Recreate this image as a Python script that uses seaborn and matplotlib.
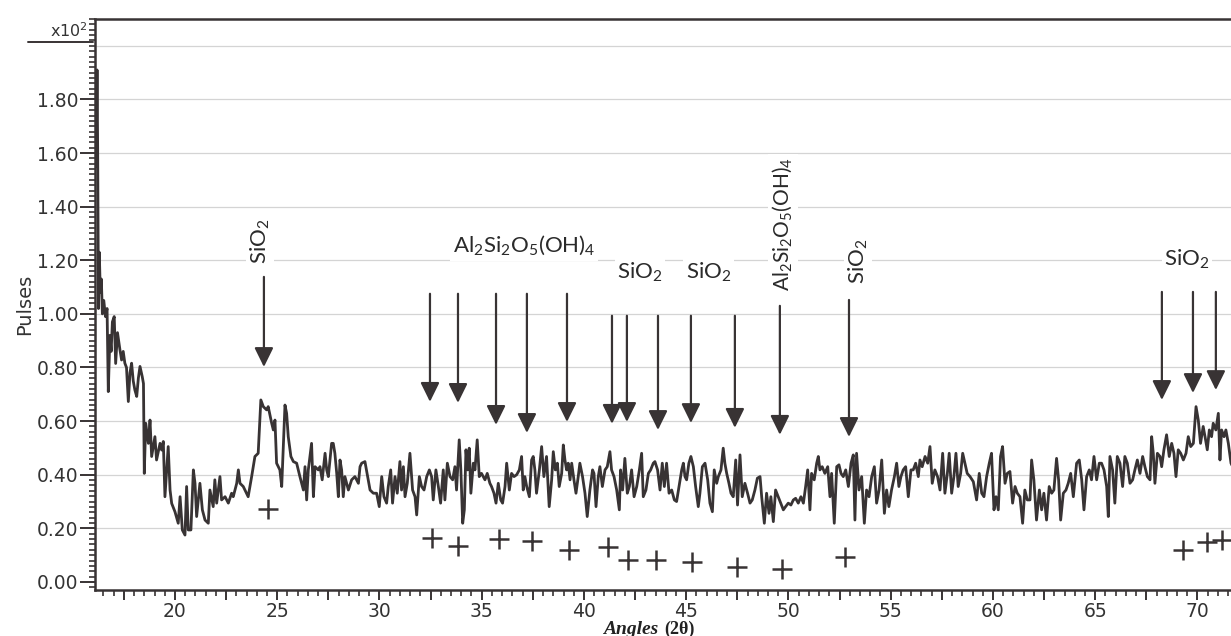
import matplotlib
matplotlib.use("Agg")
import numpy as np
import pandas as pd
import matplotlib.pyplot as plt
from matplotlib.ticker import MultipleLocator, FuncFormatter
import seaborn as sns

# Diffraction scan: angle (2-theta, degrees) and intensity (pulses x 10^2)
angle = [
    16.15, 16.19, 16.22, 16.26, 16.30, 16.35, 16.40, 16.45, 16.52, 16.60, 16.68, 16.74, 16.82, 16.88,
    16.94, 17.03, 17.10, 17.19, 17.31, 17.39, 17.47, 17.55, 17.63, 17.72, 17.80, 17.88, 17.96, 18.04,
    18.13, 18.21, 18.29, 18.40, 18.46, 18.50, 18.57, 18.70, 18.78, 18.86, 19.02, 19.10, 19.27, 19.35,
    19.43, 19.51, 19.67, 19.76, 19.84, 20.00, 20.16, 20.25, 20.36, 20.49, 20.57, 20.65, 20.78, 20.90,
    20.98, 21.06, 21.22, 21.34, 21.47, 21.63, 21.71, 21.87, 21.95, 22.04, 22.20, 22.28, 22.45, 22.61,
    22.77, 22.85, 23.02, 23.10, 23.18, 23.34, 23.50, 23.58, 23.75, 23.91, 24.07, 24.20, 24.32, 24.48,
    24.56, 24.73, 24.81, 24.89, 24.97, 25.13, 25.22, 25.30, 25.38, 25.46, 25.54, 25.67, 25.79, 25.95,
    26.11, 26.28, 26.36, 26.44, 26.52, 26.68, 26.77, 26.85, 27.01, 27.09, 27.20, 27.34, 27.42, 27.50,
    27.66, 27.74, 27.82, 27.91, 27.99, 28.07, 28.15, 28.23, 28.31, 28.48, 28.64, 28.80, 28.97, 29.05,
    29.13, 29.29, 29.42, 29.54, 29.70, 29.86, 29.99, 30.11, 30.22, 30.35, 30.43, 30.55, 30.64, 30.76,
    30.87, 31.00, 31.08, 31.17, 31.25, 31.36, 31.49, 31.62, 31.74, 31.82, 31.95, 32.06, 32.18, 32.31,
    32.44, 32.55, 32.63, 32.76, 32.88, 32.99, 33.12, 33.20, 33.32, 33.45, 33.58, 33.69, 33.77, 33.90,
    33.98, 34.07, 34.15, 34.23, 34.31, 34.39, 34.47, 34.59, 34.67, 34.78, 34.88, 34.99, 35.16, 35.27,
    35.40, 35.48, 35.60, 35.70, 35.81, 35.93, 36.02, 36.14, 36.22, 36.35, 36.46, 36.58, 36.71, 36.84,
    36.95, 37.03, 37.11, 37.20, 37.33, 37.44, 37.52, 37.60, 37.68, 37.82, 37.93, 38.04, 38.17, 38.30,
    38.42, 38.50, 38.60, 38.70, 38.79, 38.91, 38.99, 39.07, 39.15, 39.23, 39.32, 39.40, 39.51, 39.61,
    39.72, 39.80, 39.93, 40.05, 40.16, 40.29, 40.42, 40.49, 40.59, 40.70, 40.78, 40.90, 41.03, 41.14,
    41.27, 41.35, 41.47, 41.60, 41.73, 41.79, 41.89, 42.00, 42.12, 42.22, 42.33, 42.45, 42.58, 42.71,
    42.82, 42.90, 43.03, 43.15, 43.26, 43.39, 43.47, 43.60, 43.72, 43.83, 43.93, 44.04, 44.16, 44.29,
    44.42, 44.53, 44.65, 44.78, 44.86, 44.94, 45.02, 45.13, 45.23, 45.35, 45.46, 45.59, 45.67, 45.79,
    45.92, 46.05, 46.16, 46.28, 46.37, 46.49, 46.57, 46.70, 46.81, 46.89, 46.98, 47.09, 47.19, 47.30,
    47.42, 47.51, 47.63, 47.74, 47.87, 48.00, 48.12, 48.23, 48.36, 48.48, 48.61, 48.69, 48.82, 48.93,
    49.05, 49.14, 49.26, 49.37, 49.50, 49.63, 49.75, 49.86, 49.99, 50.12, 50.24, 50.35, 50.48, 50.61,
    50.73, 50.84, 50.94, 51.05, 51.13, 51.26, 51.38, 51.46, 51.54, 51.65, 51.78, 51.92, 52.03, 52.11,
    52.24, 52.36, 52.47, 52.57, 52.68, 52.80, 52.93, 53.06, 53.17, 53.25, 53.33, 53.45, 53.58, 53.71,
    53.82, 53.94, 54.07, 54.20, 54.31, 54.43, 54.56, 54.69, 54.80, 54.91, 55.04, 55.18, 55.29, 55.40,
    55.50, 55.61, 55.73, 55.86, 55.99, 56.10, 56.22, 56.35, 56.43, 56.54, 56.68, 56.81, 56.92, 57.03,
    57.16, 57.29, 57.41, 57.54, 57.65, 57.77, 57.86, 57.98, 58.09, 58.19, 58.30, 58.42, 58.52, 58.63,
    58.74, 58.88, 59.04, 59.20, 59.33, 59.45, 59.56, 59.69, 59.82, 59.93, 60.05, 60.15, 60.26, 60.37,
    60.47, 60.59, 60.70, 60.83, 60.96, 61.08, 61.19, 61.32, 61.45, 61.56, 61.68, 61.81, 61.89, 62.00,
    62.13, 62.27, 62.38, 62.49, 62.62, 62.75, 62.87, 62.98, 63.11, 63.21, 63.31, 63.44, 63.57, 63.68,
    63.80, 63.93, 64.09, 64.22, 64.34, 64.45, 64.58, 64.71, 64.82, 64.94, 65.07, 65.20, 65.31, 65.43,
    65.56, 65.64, 65.72, 65.85, 65.96, 66.08, 66.21, 66.34, 66.45, 66.57, 66.70, 66.83, 66.94, 67.06,
    67.19, 67.32, 67.43, 67.55, 67.68, 67.76, 67.84, 67.92, 68.04, 68.17, 68.25, 68.36, 68.49, 68.62,
    68.74, 68.85, 68.95, 69.06, 69.18, 69.31, 69.44, 69.55, 69.67, 69.80, 69.93, 70.04, 70.15, 70.28,
    70.37, 70.48, 70.58, 70.69, 70.77, 70.90, 71.02, 71.10, 71.18, 71.30, 71.39, 71.51, 71.64, 71.72,
]
pulses = [
    1.55, 1.91, 1.62, 1.02, 1.23, 1.08, 1.13, 1.00, 1.05, 0.99, 1.02, 0.71, 0.92, 0.86,
    0.97, 0.99, 0.815, 0.93, 0.866, 0.828, 0.86, 0.816, 0.80, 0.673, 0.78, 0.816, 0.75, 0.716,
    0.692, 0.76, 0.804, 0.766, 0.74, 0.405, 0.592, 0.517, 0.604, 0.468, 0.542, 0.455, 0.517, 0.492,
    0.524, 0.318, 0.505, 0.343, 0.293, 0.262, 0.219, 0.318, 0.194, 0.175, 0.356, 0.194, 0.194, 0.418,
    0.368, 0.244, 0.368, 0.269, 0.231, 0.219, 0.343, 0.281, 0.381, 0.294, 0.393, 0.306, 0.318, 0.294,
    0.331, 0.318, 0.368, 0.418, 0.368, 0.356, 0.331, 0.318, 0.393, 0.468, 0.480, 0.679, 0.654, 0.642,
    0.654, 0.592, 0.567, 0.604, 0.443, 0.418, 0.356, 0.505, 0.660, 0.629, 0.542, 0.468, 0.449, 0.443,
    0.393, 0.343, 0.430, 0.306, 0.418, 0.517, 0.318, 0.430, 0.418, 0.430, 0.381, 0.480, 0.418, 0.393,
    0.517, 0.517, 0.480, 0.405, 0.318, 0.455, 0.418, 0.318, 0.393, 0.343, 0.381, 0.393, 0.368, 0.430,
    0.443, 0.449, 0.393, 0.343, 0.331, 0.331, 0.281, 0.393, 0.318, 0.294, 0.356, 0.418, 0.294, 0.393,
    0.331, 0.449, 0.343, 0.430, 0.318, 0.368, 0.480, 0.343, 0.318, 0.250, 0.393, 0.356, 0.343, 0.393,
    0.418, 0.393, 0.306, 0.418, 0.356, 0.294, 0.418, 0.306, 0.443, 0.393, 0.381, 0.430, 0.343, 0.530,
    0.418, 0.219, 0.269, 0.493, 0.418, 0.499, 0.331, 0.443, 0.418, 0.530, 0.393, 0.405, 0.381, 0.405,
    0.368, 0.356, 0.331, 0.294, 0.368, 0.306, 0.294, 0.356, 0.443, 0.343, 0.405, 0.393, 0.400, 0.418,
    0.468, 0.343, 0.393, 0.356, 0.318, 0.455, 0.468, 0.418, 0.331, 0.418, 0.505, 0.393, 0.468, 0.281,
    0.381, 0.486, 0.418, 0.443, 0.356, 0.405, 0.511, 0.455, 0.418, 0.443, 0.381, 0.443, 0.381, 0.331,
    0.393, 0.443, 0.393, 0.331, 0.244, 0.343, 0.418, 0.405, 0.281, 0.393, 0.430, 0.356, 0.418, 0.430,
    0.486, 0.418, 0.393, 0.343, 0.269, 0.418, 0.343, 0.461, 0.331, 0.356, 0.418, 0.318, 0.356, 0.418,
    0.480, 0.318, 0.343, 0.405, 0.418, 0.443, 0.449, 0.418, 0.343, 0.443, 0.356, 0.443, 0.331, 0.343,
    0.306, 0.300, 0.356, 0.418, 0.443, 0.393, 0.381, 0.443, 0.468, 0.430, 0.356, 0.281, 0.331, 0.430,
    0.443, 0.381, 0.294, 0.262, 0.418, 0.368, 0.393, 0.418, 0.499, 0.443, 0.405, 0.368, 0.331, 0.318,
    0.455, 0.287, 0.474, 0.318, 0.368, 0.331, 0.294, 0.306, 0.343, 0.387, 0.393, 0.318, 0.219, 0.331,
    0.256, 0.318, 0.225, 0.343, 0.318, 0.294, 0.269, 0.281, 0.294, 0.287, 0.306, 0.312, 0.294, 0.318,
    0.294, 0.356, 0.418, 0.269, 0.405, 0.381, 0.443, 0.468, 0.418, 0.430, 0.405, 0.430, 0.318, 0.405,
    0.219, 0.430, 0.437, 0.405, 0.393, 0.418, 0.356, 0.443, 0.474, 0.231, 0.480, 0.343, 0.393, 0.219,
    0.343, 0.318, 0.393, 0.430, 0.294, 0.343, 0.455, 0.256, 0.343, 0.281, 0.343, 0.393, 0.443, 0.356,
    0.393, 0.418, 0.430, 0.318, 0.418, 0.418, 0.443, 0.393, 0.455, 0.430, 0.468, 0.443, 0.505, 0.368,
    0.418, 0.393, 0.343, 0.480, 0.331, 0.405, 0.480, 0.331, 0.393, 0.480, 0.356, 0.405, 0.480, 0.443,
    0.405, 0.393, 0.374, 0.306, 0.405, 0.331, 0.318, 0.393, 0.443, 0.480, 0.269, 0.318, 0.269, 0.468,
    0.505, 0.368, 0.405, 0.412, 0.294, 0.356, 0.331, 0.318, 0.219, 0.343, 0.306, 0.306, 0.455, 0.381,
    0.231, 0.343, 0.269, 0.331, 0.231, 0.356, 0.331, 0.343, 0.461, 0.381, 0.231, 0.331, 0.343, 0.368,
    0.405, 0.318, 0.443, 0.455, 0.381, 0.269, 0.393, 0.418, 0.381, 0.468, 0.381, 0.443, 0.443, 0.418,
    0.356, 0.244, 0.468, 0.418, 0.294, 0.468, 0.443, 0.356, 0.468, 0.443, 0.368, 0.381, 0.418, 0.455,
    0.405, 0.468, 0.430, 0.393, 0.381, 0.542, 0.480, 0.368, 0.480, 0.468, 0.430, 0.493, 0.549, 0.468,
    0.517, 0.480, 0.393, 0.493, 0.480, 0.455, 0.480, 0.542, 0.505, 0.517, 0.654, 0.604, 0.517, 0.580,
    0.542, 0.493, 0.567, 0.542, 0.592, 0.567, 0.629, 0.455, 0.567, 0.542, 0.567, 0.517, 0.443, 0.43,
]

# Reference line positions (+ markers) below the scan
ref_angle = [24.53, 32.55, 33.85, 35.86, 37.47, 39.27, 41.16, 42.14, 43.52, 45.26, 47.47, 49.67,
             52.76, 69.28, 70.45, 71.18]
ref_level = [0.272, 0.163, 0.134, 0.159, 0.153, 0.119, 0.132, 0.082, 0.082, 0.076, 0.055, 0.047,
             0.094, 0.119, 0.150, 0.157]

# Peak identification arrows
arrow_angle = [24.35, 32.47, 33.84, 35.70, 37.21, 39.17, 41.37, 42.10, 43.62, 45.23, 47.38, 49.58,
               52.96, 68.26, 69.78, 70.90]
arrow_start = [1.138, 1.075, 1.075, 1.075, 1.075, 1.075, 0.993, 0.993, 0.993, 0.993, 0.993, 1.030,
               1.052, 1.082, 1.082, 1.082]
arrow_end = [0.802, 0.672, 0.668, 0.586, 0.556, 0.597, 0.590, 0.597, 0.567, 0.593, 0.575, 0.549,
             0.541, 0.679, 0.705, 0.716]

# Phase labels
sio2 = r"SiO$_\mathregular{2}$"
kaolinite = r"Al$_\mathregular{2}$Si$_\mathregular{2}$O$_\mathregular{5}$(OH)$_\mathregular{4}$"
label_text = [sio2, kaolinite, sio2, sio2, kaolinite, sio2, sio2]
label_x = [24.16, 37.07, 42.74, 46.11, 49.73, 53.40, 69.49]
label_y = [1.27, 1.254, 1.157, 1.157, 1.336, 1.196, 1.205]
label_rot = [90, 0, 0, 0, 90, 90, 0]
label_size = [16, 16, 16, 16, 15, 16, 16]

ink = "#383334"

sns.set_theme(style="white")
plt.rcParams["font.family"] = ["DejaVu Sans"]
plt.rcParams["mathtext.fontset"] = "custom"
plt.rcParams["mathtext.rm"] = "Lato"

fig = plt.figure(figsize=(12.31, 6.36), dpi=100)
ax = fig.add_axes([95 / 1231, 1 - 590 / 636, 1 - 95 / 1231, (590 - 19) / 636])

scan = pd.DataFrame({"angle": angle, "pulses": pulses})
refs = pd.DataFrame({"angle": ref_angle, "pulses": ref_level})

for gy in np.arange(0.2, 2.01, 0.2):
    ax.axhline(gy, color="#d4d4d4", lw=0.9, zorder=0)

sns.lineplot(data=scan, x="angle", y="pulses", ax=ax, color=ink, lw=2.0,
             estimator=None, sort=False, zorder=3)
sns.scatterplot(data=refs, x="angle", y="pulses", ax=ax, marker="+", s=190,
                color=ink, linewidth=1.8, zorder=3)

for xa, y0, y1 in zip(arrow_angle, arrow_start, arrow_end):
    ax.annotate("", xy=(xa, y1), xytext=(xa, y0),
                arrowprops=dict(arrowstyle="-|>,head_length=0.65,head_width=0.32",
                                color=ink, lw=1.6, shrinkA=0, shrinkB=0,
                                mutation_scale=18), zorder=4)

for txt, xa, ya, rot, fs in zip(label_text, label_x, label_y, label_rot, label_size):
    ax.text(xa, ya, txt, rotation=rot, ha="center", va="center", fontsize=fs,
            family="Lato", color="#2a2a2a", zorder=2,
            bbox=dict(facecolor="white", edgecolor="none", pad=2))

ax.set_xlim(16.09, 71.64)

ax.xaxis.set_major_locator(MultipleLocator(2.5))
ax.xaxis.set_minor_locator(MultipleLocator(0.5))
ax.xaxis.set_major_formatter(FuncFormatter(lambda v, p: f"{v:.0f}" if abs(v % 5) < 1e-6 else ""))
ax.set_yticks(np.arange(0, 1.81, 0.2))
ax.yaxis.set_minor_locator(MultipleLocator(0.02))
ax.yaxis.set_major_formatter(FuncFormatter(lambda v, p: f"{v:.2f}"))
ax.set_ylim(-0.03, 2.10)

ax.tick_params(axis="both", which="major", direction="out", color=ink, width=1.4,
               labelsize=13.5, labelcolor="#333333")
ax.tick_params(axis="x", which="major", length=7, pad=1.5)
ax.tick_params(axis="y", which="major", length=11, pad=1)
ax.tick_params(axis="both", which="minor", direction="out", color=ink, width=1.2, length=4.5)
ax.tick_params(left=True, bottom=True, which="both")

for side in ["left", "bottom", "top"]:
    ax.spines[side].set_color(ink)
    ax.spines[side].set_linewidth(1.8)
ax.spines["right"].set_visible(False)

ax.set_xlabel("")
ax.set_ylabel("Pulses", fontsize=14, color="#333333", labelpad=2)

fig.text(658 / 1231, 1 - 629 / 636, "Angles", ha="right", va="center",
         family="Liberation Serif", fontweight="bold", fontstyle="italic", fontsize=14, color="#222222")
fig.text(664 / 1231, 1 - 629 / 636, "(2θ)", ha="left", va="center",
         family="Liberation Serif", fontweight="bold", fontsize=13, color="#222222")

fig.text(88 / 1231, 1 - 40 / 636, r"x10$^\mathregular{2}$", ha="right", va="bottom",
         fontsize=11.5, color="#333333")
fig.add_artist(plt.Line2D([28 / 1231, 93 / 1231], [1 - 42 / 636, 1 - 42 / 636],
                          color=ink, lw=1.4))

fig.savefig("out.png", dpi=100, facecolor="white")
